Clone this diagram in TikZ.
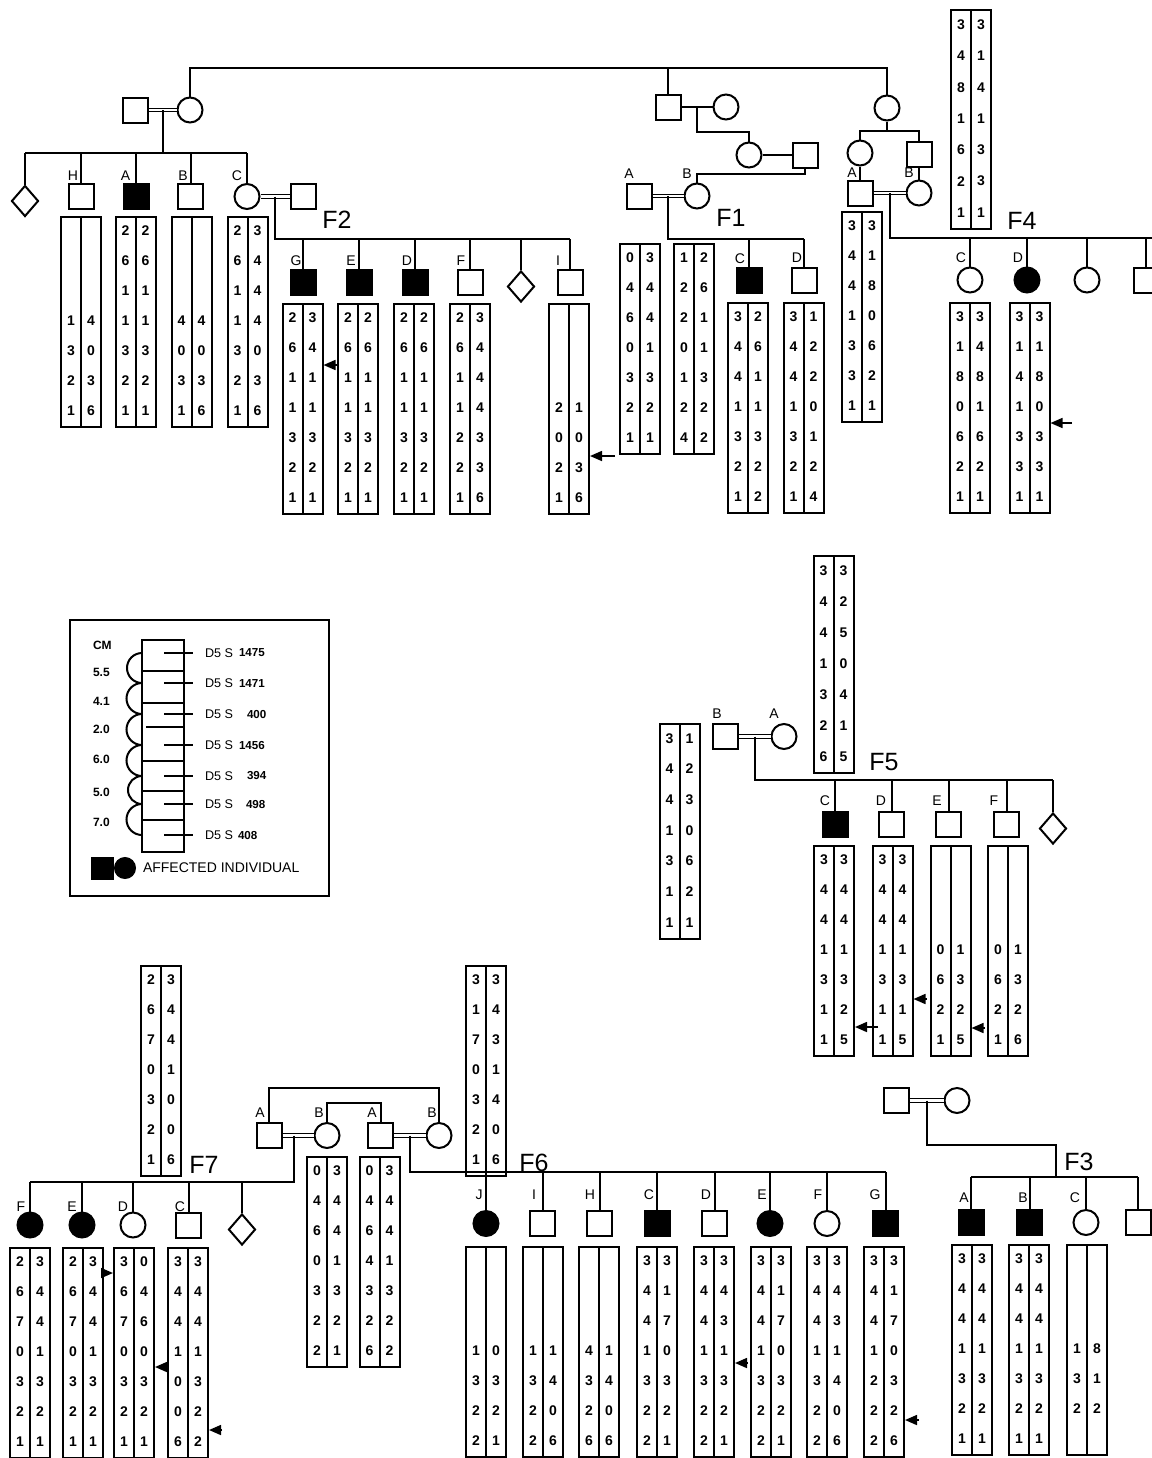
\documentclass[tikz,border=0pt]{standalone}
\usepackage{fontspec}
\setmainfont{Liberation Sans}
\usetikzlibrary{arrows.meta,shapes.geometric,calc}

% haplotype bar: [row pitch]{name}{x}{top y}{first row}{left/right alleles}
\newcommand{\hap}[6][30]{%
  \node[hapbox, minimum height=3.5pt*#1, anchor=north] (#2) at (#3,#4) {};
  \draw (#2.north) -- (#2.south);
  \foreach \pa/\pb [count=\i from #5] in {#6} {
    \node[allele] at ($(#2.north)+(-10,\i*#1-#1/2)$) {\pa};
    \node[allele] at ($(#2.north)+(10,\i*#1-#1/2)$) {\pb};
  }}

\begin{document}
\begin{tikzpicture}[x=0.5pt, y=-0.5pt, line width=1pt,
  font=\fontsize{7}{8}\selectfont,
  male/.style={draw, rectangle, minimum size=12.5pt, inner sep=0pt},
  fem/.style={draw, circle, minimum size=12.5pt, inner sep=0pt},
  unk/.style={draw, diamond, minimum width=13.5pt, minimum height=15.5pt, inner sep=0pt},
  aff/.style={fill=black},
  cons/.style={double, double distance=1.2pt, line width=0.6pt},
  hapbox/.style={draw, rectangle, minimum width=20pt, inner sep=0pt},
  allele/.style={font=\bfseries\fontsize{7}{7}\selectfont, inner sep=0pt},
  lab/.style={inner sep=0pt},
  fam/.style={font=\fontsize{12.5}{13}\selectfont, inner sep=0pt},
  lgb/.style={font=\bfseries\fontsize{6}{6}\selectfont, inner sep=0pt, anchor=west},
  lgn/.style={font=\bfseries\fontsize{5.8}{6}\selectfont, inner sep=0pt, anchor=west},
  lgt/.style={inner sep=0pt, anchor=west},
  ptr/.style={-{Triangle[length=6pt,width=5pt]}, line width=0.8pt}]
\useasboundingbox (0,0) rectangle (1152,1458);

% founders
\node[male] (m0) at (135.5,110) {};
\node[fem]  (f0) at (190,110) {};
\node[male] (m1) at (668,107) {};
\node[fem]  (w1) at (726,107) {};
\node[fem]  (g4) at (887,108) {};
\coordinate (t0) at (0,68);
\draw (f0.north) -- (f0.north |- t0) -- (g4.north |- t0) -- (g4.north);
\draw (m1.north) -- (m1.north |- t0);
\draw[cons] (m0) -- (f0);

% top-left sibship
\node[unk] (u0) at (25,201) {};
\node[male] (h0) at (81,196.5) {};
\node[male, aff] (a0) at (136,196.5) {};
\node[male] (b0) at (190.5,196.5) {};
\node[fem] (c0) at (247,196.5) {};
\coordinate (k0) at ($(m0.east)!0.5!(f0.west)$);
\coordinate (s0) at (0,153);
\draw (k0) -- (k0 |- s0);
\draw (u0.north |- s0) -- (c0.north |- s0);
\foreach \ch in {u0,h0,a0,b0,c0} \draw (\ch.north) -- (\ch.north |- s0);
\node[lab] (lh0) at (73,176) {H};
\node[lab] (la0) at (125.5,176) {A};
\node[lab] (lb0) at (183,176) {B};
\node[lab] (lc0) at (237,176) {C};
\hap{hH}{81}{216}{4}{1/4,3/0,2/3,1/6}
\hap{hA}{135.5}{216}{1}{2/2,6/6,1/1,1/1,3/3,2/2,1/1}
\hap{hB}{191.5}{216}{4}{4/4,0/0,3/3,1/6}
\hap{hC}{247.5}{216}{1}{2/3,6/4,1/4,1/4,3/0,2/3,1/6}

% F2
\node[male] (m2) at (303,196.5) {};
\draw[cons] (c0) -- (m2);
\coordinate (k2) at ($(c0.east)!0.5!(m2.west)$);
\coordinate (s2) at (0,239);
\node[male, aff] (g2) at (303,282.5) {};
\node[male, aff] (e2) at (359,282.5) {};
\node[male, aff] (d2) at (415,282.5) {};
\node[male] (f2) at (470,282.5) {};
\node[unk] (u2) at (521,286.5) {};
\node[male] (i2) at (570,282.5) {};
\draw (k2) -- (k2 |- s2) -- (i2.north |- s2);
\foreach \ch in {g2,e2,d2,f2,u2,i2} \draw (\ch.north) -- (\ch.north |- s2);
\node[lab] (lg2) at (296,261) {G};
\node[lab] (le2) at (351,261) {E};
\node[lab] (ld2) at (407,261) {D};
\node[lab] (lf2) at (461,261) {F};
\node[lab] (li2) at (558,261) {I};
\node[fam] (F2) at (337,220) {F2};
\hap{hG2}{302.5}{303}{1}{2/3,6/4,1/1,1/1,3/3,2/2,1/1}
\hap{hE2}{358}{303}{1}{2/2,6/6,1/1,1/1,3/3,2/2,1/1}
\hap{hD2}{414}{303}{1}{2/2,6/6,1/1,1/1,3/3,2/2,1/1}
\hap{hF2}{470}{303}{1}{2/3,6/4,1/4,1/4,2/3,2/3,1/6}
\hap{hI2}{569}{303}{4}{2/1,0/0,2/3,1/6}
\coordinate (pG2) at (338,365);
\draw[ptr] (pG2) -- (hG2.east |- pG2);
\coordinate (pI2) at (615,456);
\draw[ptr] (pI2) -- (hI2.east |- pI2);

% F1
\draw (m1) -- (w1);
\coordinate (k1) at ($(m1.east)!0.5!(w1.west)$);
\coordinate (r1) at (0,132);
\node[fem] (v1) at (749,155) {};
\node[male] (n1) at (805,155) {};
\draw (k1) -- (k1 |- r1) -- (v1.north |- r1) -- (v1.north);
\draw (v1) -- (n1);
\node[male] (a1) at (639,196) {};
\node[fem] (b1) at (697,196) {};
\coordinate (r1b) at (0,174);
\draw (n1.south) -- (n1.south |- r1b) -- (b1.north |- r1b) -- (b1.north);
\draw[cons] (a1) -- (b1);
\coordinate (k1b) at ($(a1.east)!0.5!(b1.west)$);
\coordinate (s1) at (0,239);
\node[male, aff] (c1) at (749,280) {};
\node[male] (d1) at (804,280) {};
\draw (k1b) -- (k1b |- s1) -- (d1.north |- s1);
\foreach \ch in {c1,d1} \draw (\ch.north) -- (\ch.north |- s1);
\node[lab] (la1) at (629,174) {A};
\node[lab] (lb1) at (687,174) {B};
\node[lab] (lc1) at (740,259) {C};
\node[lab] (ld1) at (797,258) {D};
\node[fam] (F1) at (731,218) {F1};
\hap{hA1}{640}{243}{1}{0/3,4/4,6/4,0/1,3/3,2/2,1/1}
\hap{hB1}{694}{243}{1}{1/2,2/6,2/1,0/1,1/3,2/2,4/2}
\hap{hC1}{748}{302}{1}{3/2,4/6,4/1,1/1,3/3,2/2,1/2}
\hap{hD1}{803.5}{302}{1}{3/1,4/2,4/2,1/0,3/1,2/2,1/4}

% F4
\coordinate (r4) at (0,131);
\node[fem] (v4) at (860,153) {};
\node[male] (n4) at (919,154) {};
\draw (g4.south) -- (g4.south |- r4);
\draw (v4.north) -- (v4.north |- r4) -- (n4.north |- r4) -- (n4.north);
\node[male] (a4) at (860,193) {};
\node[fem] (b4) at (919,193) {};
\draw (v4) -- (a4);
\draw (n4) -- (b4);
\draw[cons] (a4) -- (b4);
\coordinate (k4) at ($(a4.east)!0.5!(b4.west)$);
\coordinate (s4) at (1160,238);
\node[fem] (c4) at (970,280) {};
\node[fem, aff] (d4) at (1027,280) {};
\node[fem] (x4) at (1087,280) {};
\node[male] (y4) at (1146,280) {};
\draw (k4) -- (k4 |- s4) -- (s4);
\foreach \ch in {c4,d4,x4,y4} \draw (\ch.north) -- (\ch.north |- s4);
\node[lab] (la4) at (852,173) {A};
\node[lab] (lb4) at (909,173) {B};
\node[lab] (lc4) at (961,258) {C};
\node[lab] (ld4) at (1018,258) {D};
\node[fam] (F4) at (1022,221) {F4};
\hap{hA4}{862}{211}{1}{3/3,4/1,4/8,1/0,3/6,3/2,1/1}
\hap[31.3]{hB4}{971}{9}{1}{3/3,4/1,8/4,1/1,6/3,2/3,1/1}
\hap{hC4}{970}{302}{1}{3/3,1/4,8/8,0/1,6/6,2/2,1/1}
\hap{hD4}{1029.5}{302}{1}{3/3,1/1,4/8,1/0,3/3,3/3,1/1}
\coordinate (pD4) at (1072,423);
\draw[ptr] (pD4) -- (hD4.east |- pD4);

% legend
\draw (70,620) rectangle (329,896);
\node[lgb] (cm) at (92,645) {CM};
\foreach \v/\y in {5.5/672,4.1/701,2.0/729,6.0/759,5.0/792,7.0/822}
  \node[lgb] at (92,\y) {\v};
\draw (142,640) rectangle (184,852);
\foreach \y in {671,703,761,791,820} \draw (142,\y) -- (184,\y);
\draw (146,727) -- (184,727);
\foreach \ya/\yb in {653/683,683/714,714/745,745/776,776/804,804/835}
  \draw (142,\ya) arc[start angle=90, end angle=270, radius={(\yb-\ya)*0.25pt}];
\foreach \y/\n/\xn in {653/1475/238,683/1471/238,714/400/246,745/1456/238,776/394/246,804/498/245,835/408/237} {
  \draw (164,\y) -- (193,\y);
  \node[lgt, font=\fontsize{6.3}{7}\selectfont] at (204,\y) {D5 S};
  \node[lgn] at (\xn,\y) {\n};
}
\node[male, aff, minimum size=10.5pt] (ksq) at (102,868) {};
\node[fem, aff, minimum size=10pt] (kci) at (125,868) {};
\node[lgt] (ktx) at (142,868) {AFFECTED INDIVIDUAL};

% F5
\node[male] (b5) at (725.5,736.5) {};
\node[fem] (a5) at (784,736.5) {};
\draw[cons] (b5) -- (a5);
\coordinate (k5) at ($(b5.east)!0.5!(a5.west)$);
\coordinate (s5) at (0,780);
\node[male, aff] (c5) at (835,824) {};
\node[male] (d5) at (891.5,824) {};
\node[male] (e5) at (948.5,824) {};
\node[male] (f5) at (1006.5,824) {};
\node[unk] (u5) at (1053,828.5) {};
\draw (k5) -- (k5 |- s5) -- (u5.north |- s5);
\foreach \ch in {c5,d5,e5,f5,u5} \draw (\ch.north) -- (\ch.north |- s5);
\node[lab] (lb5) at (717,714) {B};
\node[lab] (la5) at (774,714) {A};
\node[lab] (lc5) at (825,801) {C};
\node[lab] (ld5) at (881,801) {D};
\node[lab] (le5) at (937,801) {E};
\node[lab] (lf5) at (994,801) {F};
\node[fam] (F5) at (884,762) {F5};
\hap[31]{hT5}{833.5}{555}{1}{3/3,4/2,4/5,1/0,3/4,2/1,6/5}
\hap[30.7]{hL5}{679.5}{723}{1}{3/1,4/2,4/3,1/0,3/6,1/2,1/1}
\hap{hC5}{834}{845}{1}{3/3,4/4,4/4,1/1,3/3,1/2,1/5}
\hap{hD5}{892.5}{845}{1}{3/3,4/4,4/4,1/1,3/3,1/1,1/5}
\hap{hE5}{950.5}{845}{4}{0/1,6/3,2/2,1/5}
\hap{hF5}{1008}{845}{4}{0/1,6/3,2/2,1/6}
\coordinate (pC5) at (878,1027);
\draw[ptr] (pC5) -- (hC5.east |- pC5);
\coordinate (pD5) at (927,999);
\draw[ptr] (pD5) -- (hD5.east |- pD5);
\coordinate (pE5) at (985,1028);
\draw[ptr] (pE5) -- (hE5.east |- pE5);

% F7 and F6 parents
\node[male] (a7) at (269,1135.5) {};
\node[fem] (b7) at (327,1135.5) {};
\node[male] (a6) at (380.5,1135.5) {};
\node[fem] (b6) at (439,1135.5) {};
\coordinate (r7) at (0,1088);
\coordinate (r7b) at (0,1103);
\draw (a7.north) -- (a7.north |- r7) -- (b6.north |- r7) -- (b6.north);
\draw (b7.north) -- (b7.north |- r7b) -- (a6.north |- r7b) -- (a6.north);
\draw[cons] (a7) -- (b7);
\draw[cons] (a6) -- (b6);
\node[lab] (la7) at (260,1113) {A};
\node[lab] (lb7) at (319,1113) {B};
\node[lab] (la6) at (372,1113) {A};
\node[lab] (lb6) at (432,1113) {B};
\hap{hP7}{327}{1156}{1}{0/3,4/4,6/4,0/1,3/3,2/2,2/1}
\hap{hP6}{379.5}{1156}{1}{0/3,4/4,6/4,4/1,3/3,2/2,6/2}

% F7
\coordinate (k7) at (294,1135.5);
\coordinate (s7) at (0,1182);
\node[fem, aff] (f7) at (30,1225) {};
\node[fem, aff] (e7) at (82,1225) {};
\node[fem] (d7) at (133,1225) {};
\node[male] (c7) at (188.5,1225) {};
\node[unk] (u7) at (242,1229.5) {};
\draw (k7) -- (k7 |- s7) -- (f7.north |- s7);
\foreach \ch in {f7,e7,d7,c7,u7} \draw (\ch.north) -- (\ch.north |- s7);
\node[lab] (lf7) at (21,1207) {F};
\node[lab] (le7) at (72,1207) {E};
\node[lab] (ld7) at (123,1207) {D};
\node[lab] (lc7) at (180,1207) {C};
\node[fam] (F7) at (204,1165) {F7};
\hap{hT7}{161}{965}{1}{2/3,6/4,7/4,0/1,3/0,2/0,1/6}
\hap{hF7}{30}{1247}{1}{2/3,6/4,7/4,0/1,3/3,2/2,1/1}
\hap{hE7}{83}{1247}{1}{2/3,6/4,7/4,0/1,3/3,2/2,1/1}
\hap{hD7}{134}{1247}{1}{3/0,6/4,7/6,0/0,3/3,2/2,1/1}
\hap{hC7}{188}{1247}{1}{3/3,4/4,4/4,1/1,0/3,0/2,6/2}
\coordinate (pE7) at (0,1273);
\draw[ptr] (hE7.east |- pE7) -- (hD7.west |- pE7);
\coordinate (pD7) at (168,1367);
\draw[ptr] (pD7) -- (hD7.east |- pD7);
\coordinate (pC7) at (222,1430);
\draw[ptr] (pC7) -- (hC7.east |- pC7);

% F6
\coordinate (k6) at ($(a6.east)!0.5!(b6.west)$);
\coordinate (s6) at (0,1172);
\node[fem, aff] (j6) at (486,1223.5) {};
\node[male] (i6) at (542.5,1223.5) {};
\node[male] (h6) at (599.5,1223.5) {};
\node[male, aff] (c6) at (657,1223.5) {};
\node[male] (d6) at (714.5,1223.5) {};
\node[fem, aff] (e6) at (770,1223.5) {};
\node[fem] (f6) at (827,1223.5) {};
\node[male, aff] (g6) at (885.5,1223.5) {};
\draw (k6) -- (k6 |- s6) -- (g6.north |- s6);
\foreach \ch in {j6,i6,h6,c6,d6,e6,f6,g6} \draw (\ch.north) -- (\ch.north |- s6);
\node[lab] (lj6) at (479,1195) {J};
\node[lab] (li6) at (534,1195) {I};
\node[lab] (lh6) at (590,1195) {H};
\node[lab] (lc6) at (649,1195) {C};
\node[lab] (ld6) at (706,1195) {D};
\node[lab] (le6) at (762,1195) {E};
\node[lab] (lf6) at (818,1195) {F};
\node[lab] (lg6) at (875,1195) {G};
\node[fam] (F6) at (534,1163) {F6};
\hap{hT6}{486}{965}{1}{3/3,1/4,7/3,0/1,3/4,2/0,1/6}
\hap{hJ6}{486}{1246}{4}{1/0,3/3,2/2,2/1}
\hap{hI6}{543}{1246}{4}{1/1,3/4,2/0,2/6}
\hap{hH6}{599}{1246}{4}{4/1,3/4,2/0,6/6}
\hap{hC6}{657}{1246}{1}{3/3,4/1,4/7,1/0,3/3,2/2,2/1}
\hap{hD6}{714}{1246}{1}{3/3,4/4,4/3,1/1,3/3,2/2,2/1}
\hap{hE6}{771}{1246}{1}{3/3,4/1,4/7,1/0,3/3,2/2,2/1}
\hap{hF6}{827}{1246}{1}{3/3,4/4,4/3,1/1,3/4,2/0,2/6}
\hap{hG6}{884}{1246}{1}{3/3,4/1,4/7,1/0,2/3,2/2,2/6}
\coordinate (pD6) at (748,1363);
\draw[ptr] (pD6) -- (hD6.east |- pD6);
\coordinate (pG6) at (919,1420);
\draw[ptr] (pG6) -- (hG6.east |- pG6);

% F3
\node[male] (m3) at (896,1100.5) {};
\node[fem] (w3) at (957,1100.5) {};
\draw[cons] (m3) -- (w3);
\coordinate (k3) at ($(m3.east)!0.5!(w3.west)$);
\coordinate (r3) at (0,1145);
\coordinate (j3) at (1056,1177);
\draw (k3) -- (k3 |- r3) -- (j3 |- r3) -- (j3);
\node[male, aff] (a3) at (971,1222.5) {};
\node[male, aff] (b3) at (1029.5,1222.5) {};
\node[fem] (c3) at (1086,1222.5) {};
\node[male] (x3) at (1138,1222.5) {};
\draw (a3.north |- j3) -- (x3.north |- j3);
\foreach \ch in {a3,b3,c3,x3} \draw (\ch.north) -- (\ch.north |- j3);
\node[lab] (la3) at (964,1198) {A};
\node[lab] (lb3) at (1023,1198) {B};
\node[lab] (lc3) at (1075,1198) {C};
\node[fam] (F3) at (1079,1162) {F3};
\hap{hA3}{972}{1244}{1}{3/3,4/4,4/4,1/1,3/3,2/2,1/1}
\hap{hB3}{1029}{1244}{1}{3/3,4/4,4/4,1/1,3/3,2/2,1/1}
\hap{hC3}{1087}{1244}{4}{1/8,3/1,2/2}
\end{tikzpicture}
\end{document}
